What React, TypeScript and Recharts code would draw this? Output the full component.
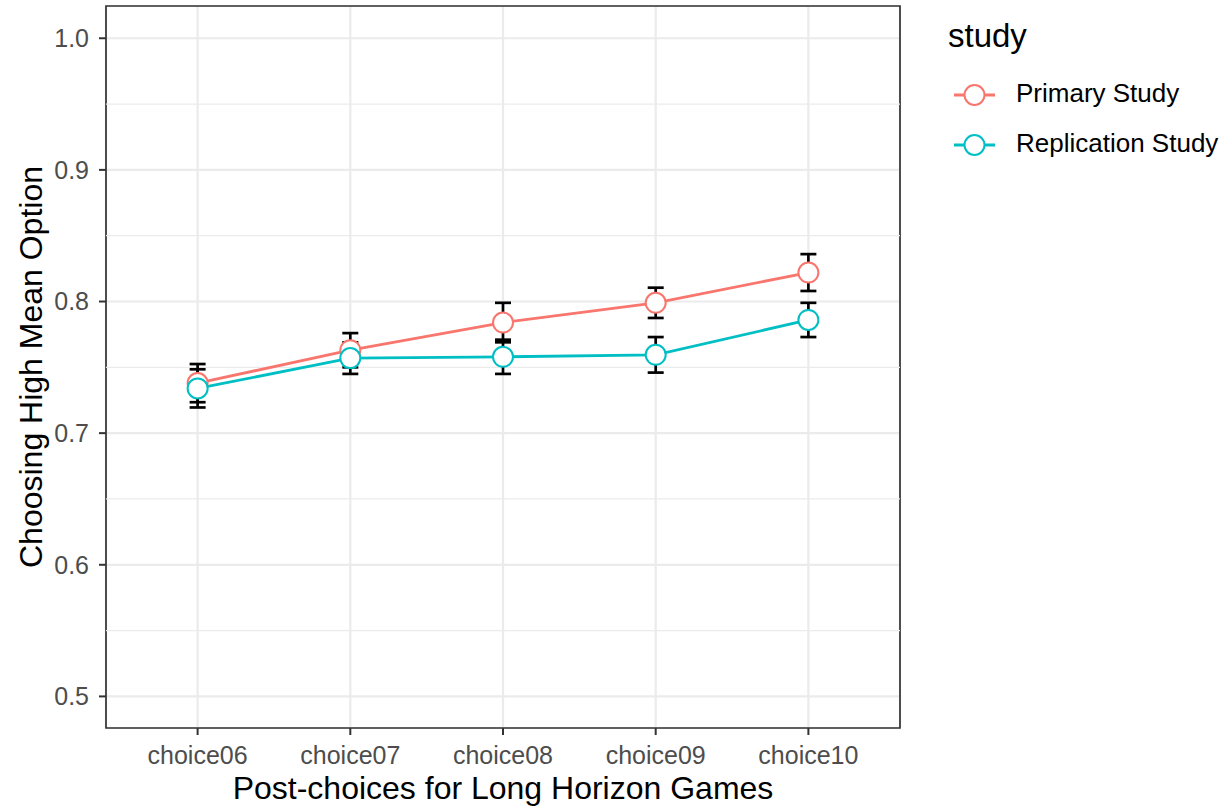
import React from 'react';
import {
  LineChart, Line, XAxis, YAxis, CartesianGrid, ErrorBar, ReferenceLine,
  ReferenceArea, Legend, Label,
} from 'recharts';

const categories = ['choice06', 'choice07', 'choice08', 'choice09', 'choice10'];
const primaryMean = [0.738, 0.763, 0.784, 0.799, 0.822];
const primarySe = [0.0145, 0.013, 0.015, 0.0115, 0.014];
const replicationMean = [0.734, 0.757, 0.758, 0.7595, 0.786];
const replicationSe = [0.0145, 0.012, 0.013, 0.0135, 0.013];
const yTicks = [0.5, 0.6, 0.7, 0.8, 0.9, 1.0];
const yMinor = [0.55, 0.65, 0.75, 0.85, 0.95];

const RED = '#F8766D';
const TEAL = '#00BFC4';
const FONT = '"Liberation Sans", Arial, Helvetica, sans-serif';
const Y_DOMAIN: [number, number] = [0.476, 1.0245];
const X_DOMAIN: [number, number] = [-0.6, 4.6];

const rows = categories.map((c, i) => ({
  idx: i,
  name: c,
  primary: primaryMean[i],
  primarySe: primarySe[i],
  replication: replicationMean[i],
  replicationSe: replicationSe[i],
}));

function StudyLegend({ payload }: any) {
  const items = payload ?? [];
  return (
    <svg width={288} height={170} style={{ fontFamily: FONT, display: 'block' }}>
      <text x={8} y={47} fontSize={33} fill="#000">study</text>
      {items.map((it: any, i: number) => {
        const cy = 95 + i * 50;
        return (
          <g key={it.value}>
            <line x1={14} x2={55} y1={cy} y2={cy} stroke={it.color} strokeWidth={2.8} />
            <circle cx={34.5} cy={cy} r={10} fill="#fff" stroke={it.color} strokeWidth={2} />
            <text x={76} y={cy + 7} fontSize={26} fill="#000">{it.value}</text>
          </g>
        );
      })}
    </svg>
  );
}

export default function App() {
  return (
    <div style={{ position: 'absolute', left: 0, top: 0, background: '#fff' }}>
      <LineChart
        width={1228}
        height={812}
        data={rows}
        margin={{ top: 6, right: 328, bottom: 0, left: 0 }}
        style={{ fontFamily: FONT }}
      >
        <CartesianGrid stroke="#ebebeb" strokeWidth={2.2} />
        {yMinor.map((v) => (
          <ReferenceLine key={v} y={v} stroke="#ebebeb" strokeWidth={1.2} />
        ))}
        <XAxis
          type="number"
          dataKey="idx"
          domain={X_DOMAIN}
          ticks={[0, 1, 2, 3, 4]}
          allowDataOverflow
          tickFormatter={(i: number) => categories[i]}
          height={84}
          axisLine={false}
          tickSize={7}
          tickMargin={11}
          tickLine={{ stroke: '#333', strokeWidth: 2 }}
          tick={{ fill: '#4d4d4d', fontSize: 25 }}
        >
          <Label
            value="Post-choices for Long Horizon Games"
            position="insideBottom"
            offset={13}
            style={{ fontSize: 32, fill: '#000' }}
          />
        </XAxis>
        <YAxis
          type="number"
          domain={Y_DOMAIN}
          ticks={yTicks}
          allowDataOverflow
          tickFormatter={(v: number) => v.toFixed(1)}
          width={106}
          axisLine={false}
          tickSize={7}
          tickMargin={10}
          tickLine={{ stroke: '#333', strokeWidth: 2 }}
          tick={{ fill: '#4d4d4d', fontSize: 25 }}
        >
          <Label
            value="Choosing High Mean Option"
            angle={-90}
            position="insideLeft"
            offset={31}
            style={{ fontSize: 32, fill: '#000', textAnchor: 'middle' }}
          />
        </YAxis>
        <Line
          name="Primary Study"
          dataKey="primary"
          stroke={RED}
          strokeWidth={2.8}
          dot={{ r: 10, fill: '#fff', stroke: RED, strokeWidth: 2 }}
          activeDot={false}
          isAnimationActive={false}
        >
          <ErrorBar dataKey="primarySe" direction="y" width={8} stroke="#000" strokeWidth={2.7} isAnimationActive={false} />
        </Line>
        <Line
          name="Replication Study"
          dataKey="replication"
          stroke={TEAL}
          strokeWidth={2.8}
          dot={{ r: 10, fill: '#fff', stroke: TEAL, strokeWidth: 2 }}
          activeDot={false}
          isAnimationActive={false}
        >
          <ErrorBar dataKey="replicationSe" direction="y" width={8} stroke="#000" strokeWidth={2.7} isAnimationActive={false} />
        </Line>
        <ReferenceArea
          x1={X_DOMAIN[0]}
          x2={X_DOMAIN[1]}
          y1={Y_DOMAIN[0]}
          y2={Y_DOMAIN[1]}
          fill="none"
          stroke="#333"
          strokeWidth={1.7}
          ifOverflow="visible"
        />
        <Legend
          layout="vertical"
          align="center"
          verticalAlign="middle"
          content={<StudyLegend />}
          wrapperStyle={{ position: 'absolute', left: 940, top: 0, width: 288, height: 170 }}
        />
      </LineChart>
    </div>
  );
}
